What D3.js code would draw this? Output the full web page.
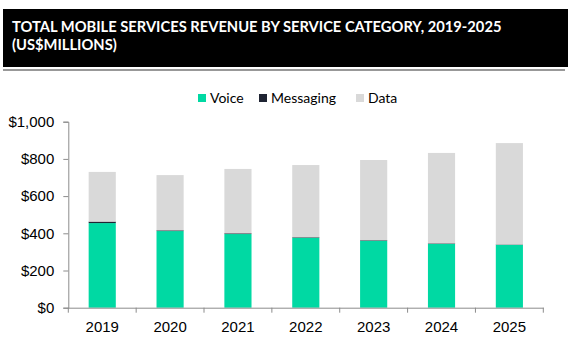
<!DOCTYPE html>
<html>
<head>
<meta charset="utf-8">
<script src="https://cdn.jsdelivr.net/npm/d3@7"></script>
<style>
  body { margin: 0; background: #fff; }
  svg { display: block; font-family: Lato, "Open Sans", sans-serif; }
</style>
</head>
<body>
<svg id="chart" width="568" height="347"></svg>
<script>
  // revenue per service category, US$ millions
  var years = ['2019', '2020', '2021', '2022', '2023', '2024', '2025'];
  var voice = [455, 412, 396, 376, 360, 343, 338];
  var messaging = [8, 4, 4, 3, 3, 3, 2];
  var data = [267, 297, 346, 388, 431, 486, 545];
  var yTicks = [0, 200, 400, 600, 800, 1000];

  var seriesNames = ['Voice', 'Messaging', 'Data'];
  var colors = ['#00d9a3', '#1f2433', '#d9d9d9'];

  var rows = years.map(function (y, i) {
    return { year: y, Voice: voice[i], Messaging: messaging[i], Data: data[i] };
  });

  var svg = d3.select('#chart');
  var margins = { top: 121.7, right: 24.7, bottom: 39.3, left: 68.3 };
  var width = 568 - margins.left - margins.right;
  var height = 347 - margins.top - margins.bottom;

  // title banner
  svg.append('rect')
    .attr('x', 3).attr('y', 9)
    .attr('width', 565).attr('height', 58)
    .attr('fill', '#000');
  svg.append('line')
    .attr('x1', 3).attr('x2', 565)
    .attr('y1', 70).attr('y2', 70)
    .attr('stroke', '#333').attr('stroke-width', 1);

  var titleLines = ['TOTAL MOBILE SERVICES REVENUE BY SERVICE CATEGORY, 2019-2025', '(US$MILLIONS)'];
  var titleTexts = svg.selectAll('text.title')
    .data(titleLines)
    .enter()
    .append('text')
      .attr('class', 'title')
      .attr('x', 12)
      .attr('y', function (d, i) { return 32 + i * 18; })
      .attr('fill', '#fff')
      .attr('font-weight', 'bold')
      .attr('font-size', 17)
      .text(function (d) { return d; });
  // fit the first line to 490px
  var w0 = titleTexts.node().getComputedTextLength();
  titleTexts.attr('font-size', Math.min(18.5, 17 * 490 / w0));

  var x = d3.scaleBand()
    .domain(years)
    .range([0, width])
    .paddingInner(0.6)
    .paddingOuter(0.3);

  var y = d3.scaleLinear()
    .domain([0, 1000])
    .range([height, 0]);

  var g = svg.append('g')
    .attr('transform', 'translate(' + margins.left + ',' + margins.top + ')');

  var stack = d3.stack().keys(seriesNames);
  var layers = stack(rows);

  g.selectAll('g.layer')
    .data(layers)
    .enter()
    .append('g')
      .attr('class', 'layer')
      .attr('fill', function (d, i) { return colors[i]; })
    .selectAll('rect')
    .data(function (d) { return d; })
    .enter()
    .append('rect')
      .attr('x', function (d) { return x(d.data.year); })
      .attr('width', x.bandwidth())
      .attr('y', function (d) { return y(d[1]); })
      .attr('height', function (d) { return y(d[0]) - y(d[1]); });

  // y axis
  var yAxis = g.append('g')
    .call(d3.axisLeft(y)
      .tickValues(yTicks)
      .tickSize(5)
      .tickPadding(9)
      .tickFormat(function (d) { return '$' + d3.format(',')(d); }));
  yAxis.select('.domain').attr('stroke', '#8c8c8c');
  yAxis.selectAll('.tick line').attr('stroke', '#8c8c8c');
  yAxis.selectAll('text').attr('font-size', 15).attr('fill', '#000');

  // x axis with ticks at band boundaries
  var xAxis = g.append('g')
    .attr('transform', 'translate(0,' + height + ')')
    .call(d3.axisBottom(x).tickSize(0).tickPadding(14));
  xAxis.select('.domain').attr('stroke', '#8c8c8c');
  xAxis.selectAll('text').attr('font-size', 15).attr('fill', '#000');
  xAxis.selectAll('line.sep')
    .data(d3.range(years.length + 1))
    .enter()
    .append('line')
      .attr('class', 'sep')
      .attr('x1', function (i) { return i * width / years.length; })
      .attr('x2', function (i) { return i * width / years.length; })
      .attr('y1', 0).attr('y2', 5)
      .attr('stroke', '#8c8c8c');

  // legend
  var legendX = [198, 259, 356];
  var legend = svg.append('g').attr('transform', 'translate(0,94)');
  seriesNames.forEach(function (name, i) {
    legend.append('rect')
      .attr('x', legendX[i]).attr('y', 0)
      .attr('width', 8).attr('height', 8)
      .attr('fill', colors[i]);
    legend.append('text')
      .attr('x', legendX[i] + 12).attr('y', 9)
      .attr('font-size', 14)
      .text(name);
  });
</script>
</body>
</html>
